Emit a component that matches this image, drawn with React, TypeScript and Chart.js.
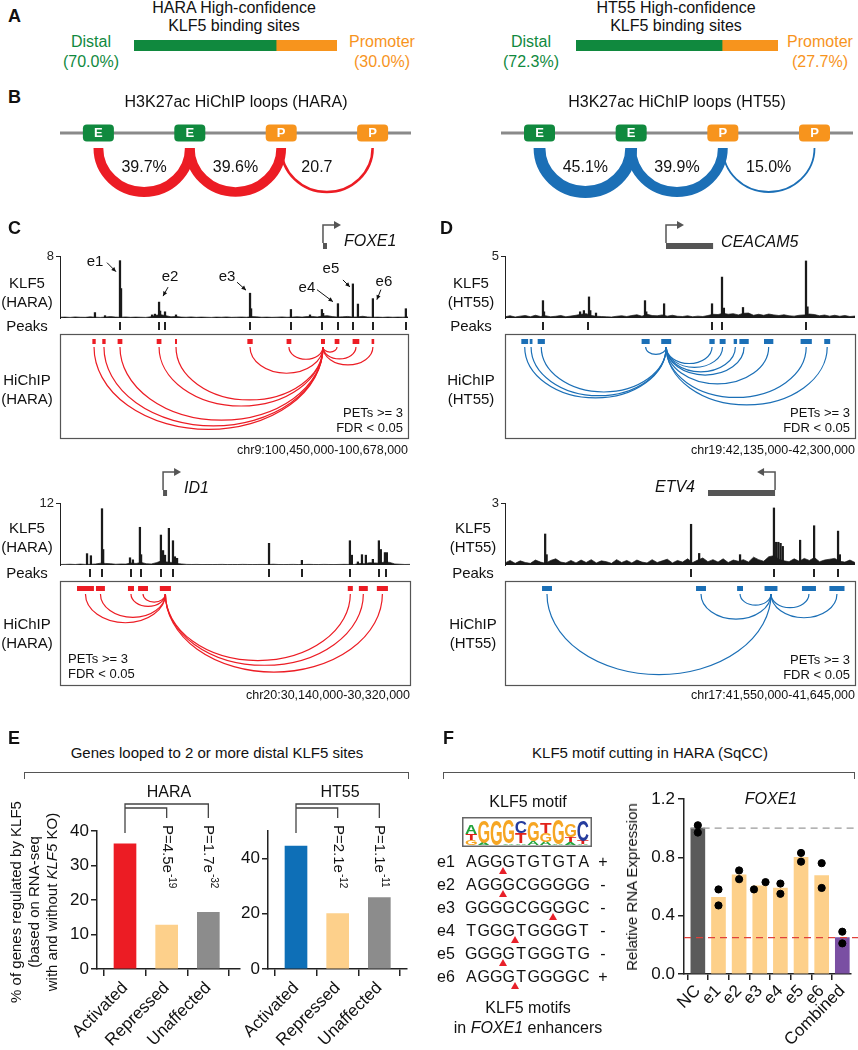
import React, { useEffect, useRef } from "react";
import { Chart, registerables } from "chart.js";

Chart.register(...registerables);

const FONT = "'Liberation Sans', Arial, Helvetica, sans-serif";
Chart.defaults.font.family = FONT;
Chart.defaults.color = "#111";

const GREEN = "#10893E";
const ORANGE = "#F7941D";
const RED = "#EC1C24";
const BLUE = "#1B6FB6";
const INK = "#1a1a1a";

/* ---------------- Panel A ---------------- */
const bindingCells = ["HARA", "HT55"];
const distalPct = [70.0, 72.3];
const promoterPct = [30.0, 27.7];

/* ---------------- Panel B ---------------- */
const loopNodes = ["E", "E", "P", "P"];
const loopPctHARA = [39.7, 39.6, 20.7];
const loopPctHT55 = [45.1, 39.9, 15.0];
const loopTextHARA = ["39.7%", "39.6%", "20.7"];
const loopTextHT55 = ["45.1%", "39.9%", "15.0%"];

/* ---------------- Panel C top: FOXE1 locus (HARA), kb from chr9:100,450,000 ---------------- */
const foxe1Span = 228;
const foxe1Max = 8;
const foxe1Noise = [
  0.10, 0.12, 0.08, 0.14, 0.10, 0.09, 0.15, 0.11, 0.08, 0.13,
  0.18, 0.12, 0.10, 0.14, 0.09, 0.12, 0.10, 0.08, 0.16, 0.35,
  0.42, 0.30, 0.15, 0.20, 0.12, 0.10, 0.14, 0.09, 0.12, 0.10,
  0.08, 0.12, 0.10, 0.14, 0.09, 0.11, 0.13, 0.10, 0.18, 0.15,
  0.10, 0.12, 0.09, 0.11, 0.14, 0.10, 0.12, 0.16, 0.12, 0.18,
  0.20, 0.14, 0.25, 0.30, 0.18, 0.12, 0.15, 0.20, 0.12, 0.14,
  0.22, 0.14, 0.10, 0.12, 0.09, 0.13, 0.10, 0.12, 0.11, 0.14,
];
const foxe1Peaks = [
  [22.9, 0.7], [29.5, 0.3], [39.3, 7.4], [40.0, 3.8], [60.3, 0.4], [62.2, 0.5],
  [64.9, 2.05], [65.6, 0.9], [68.8, 0.8], [76.0, 0.4], [124.5, 3.2], [125.2, 1.2],
  [151.3, 1.1], [163.8, 0.4], [171.6, 1.1], [172.4, 0.6], [182.1, 1.85], [191.9, 4.4],
  [195.2, 1.8], [205.0, 2.5], [226.6, 1.2],
];
const foxe1Calls = [39.3, 64.9, 68.8, 124.5, 151.3, 171.6, 182.1, 191.9, 205.0, 226.6];
const foxe1Anchors = [
  [22.3, 2.2], [28.8, 2.2], [39.3, 3.1], [64.9, 3.1], [76.0, 1.3], [124.5, 3.5],
  [150.0, 3.1], [172.3, 2.6], [181.5, 3.1], [193.9, 4.4], [205.0, 1.7],
];
const foxe1Loops = [
  [22.3, 172.3], [28.8, 172.3], [39.3, 172.3], [64.9, 172.3], [76.0, 172.3],
  [124.5, 172.3], [150.0, 172.3], [172.3, 181.5], [172.3, 193.9], [172.3, 205.0],
];

/* ---------------- Panel C bottom: ID1 locus (HARA), kb from chr20:30,140,000 ---------------- */
const id1Span = 180;
const id1Max = 12;
const id1Noise = [
  0.10, 0.12, 0.15, 0.10, 0.18, 0.12, 0.14, 0.20, 0.35, 0.30,
  0.25, 0.15, 0.20, 0.18, 0.40, 0.30, 0.50, 0.25, 0.20, 0.45,
  0.80, 0.60, 0.50, 0.30, 0.20, 0.12, 0.10, 0.12, 0.08, 0.10,
  0.09, 0.10, 0.12, 0.08, 0.10, 0.09, 0.12, 0.10, 0.08, 0.10,
  0.11, 0.09, 0.15, 0.10, 0.08, 0.10, 0.12, 0.09, 0.10, 0.13,
  0.10, 0.09, 0.12, 0.10, 0.08, 0.11, 0.13, 0.12, 0.10, 0.30,
  0.25, 0.45, 0.40, 0.35, 0.60, 0.50, 0.20, 0.15, 0.10, 0.12,
];
const id1Peaks = [
  [13.9, 2.2], [15.9, 1.8], [21.6, 10.9], [22.2, 3.0], [36.0, 1.4], [37.5, 1.0],
  [41.1, 7.3], [41.7, 2.0], [51.9, 5.8], [53.0, 2.8], [54.0, 1.9], [56.0, 7.1],
  [58.1, 4.7], [59.1, 1.6], [60.2, 1.3], [107.5, 4.2], [124.4, 0.9], [149.1, 4.7],
  [150.1, 1.9], [153.2, 0.6], [155.3, 2.0], [157.3, 1.9], [160.9, 1.1], [164.0, 4.7],
  [165.0, 3.0], [167.1, 2.4], [168.1, 2.4],
];
const id1Calls = [15.4, 21.6, 36.5, 41.6, 51.9, 58.1, 107.5, 124.4, 149.1, 164.0, 167.6];
const id1Anchors = [
  [13.1, 8.7], [20.8, 4.6], [36.5, 3.1], [42.7, 5.1], [54.2, 5.7],
  [149.3, 2.6], [156.0, 4.6], [165.8, 5.7],
];
const id1Loops = [
  [13.1, 54.2], [20.8, 54.2], [36.5, 54.2], [42.7, 54.2],
  [54.2, 149.3], [54.2, 156.0], [54.2, 165.8],
];

/* ---------------- Panel D top: CEACAM5 locus (HT55), kb from chr19:42,135,000 ---------------- */
const ceaSpan = 165;
const ceaMax = 5;
const ceaNoise = [
  0.10, 0.18, 0.08, 0.15, 0.20, 0.10, 0.22, 0.12, 0.18, 0.10,
  0.14, 0.20, 0.10, 0.16, 0.22, 0.30, 0.35, 0.20, 0.14, 0.12,
  0.10, 0.08, 0.14, 0.18, 0.12, 0.20, 0.26, 0.15, 0.30, 0.20,
  0.18, 0.25, 0.15, 0.22, 0.14, 0.12, 0.18, 0.10, 0.15, 0.12,
  0.20, 0.30, 0.28, 0.38, 0.30, 0.35, 0.25, 0.38, 0.40, 0.22,
  0.30, 0.22, 0.32, 0.25, 0.20, 0.26, 0.18, 0.15, 0.22, 0.25,
  0.32, 0.28, 0.18, 0.24, 0.15, 0.22, 0.14, 0.20, 0.12, 0.16,
];
const ceaPeaks = [
  [17.9, 1.4], [18.4, 0.5], [35.4, 0.5], [37.2, 0.6], [39.6, 1.7], [40.2, 0.6],
  [42.9, 0.4], [66.0, 1.4], [66.6, 0.5], [75.0, 1.15], [97.6, 1.15], [102.3, 3.3],
  [103.2, 0.8], [112.2, 0.85], [141.9, 4.6], [142.6, 0.9],
];
const ceaCalls = [17.9, 39.1, 97.6, 102.3, 141.9];
const ceaAnchors = [
  [9.3, 3.2], [12.3, 1.3], [17.1, 3.4], [66.3, 3.8], [76.0, 4.7], [97.6, 2.5],
  [102.6, 2.8], [108.6, 1.6], [112.7, 4.4], [124.3, 4.4], [142.0, 5.3], [151.9, 2.8],
];
const ceaLoops = [
  [9.3, 76.0], [12.3, 76.0], [17.1, 76.0], [66.3, 76.0], [76.0, 97.6], [76.0, 102.6],
  [76.0, 108.6], [76.0, 112.7], [76.0, 124.3], [76.0, 142.0], [76.0, 151.9],
];

/* ---------------- Panel D bottom: ETV4 locus (HT55), kb from chr17:41,550,000 ---------------- */
const etv4Span = 95;
const etv4Max = 3;
const etv4Noise = [
  0.10, 0.22, 0.08, 0.20, 0.12, 0.08, 0.24, 0.14, 0.08, 0.22,
  0.30, 0.14, 0.10, 0.22, 0.10, 0.24, 0.12, 0.26, 0.10, 0.20,
  0.16, 0.08, 0.26, 0.12, 0.22, 0.10, 0.24, 0.14, 0.10, 0.26,
  0.12, 0.20, 0.28, 0.10, 0.22, 0.14, 0.30, 0.12, 0.24, 0.34,
  0.16, 0.26, 0.14, 0.30, 0.12, 0.24, 0.18, 0.26, 0.14, 0.38,
  0.26, 0.18, 0.40, 0.45, 0.28, 0.20, 0.16, 0.30, 0.18, 0.32,
  0.22, 0.36, 0.16, 0.24, 0.28, 0.32, 0.18, 0.14, 0.24, 0.12,
];
const etv4Peaks = [
  [10.9, 1.5], [11.3, 0.5], [50.5, 1.97], [52.7, 0.56], [63.8, 0.5], [73.0, 2.76],
  [73.6, 1.1], [74.2, 1.1], [74.8, 1.05], [75.4, 0.9], [80.1, 1.2], [83.9, 1.9],
  [90.4, 1.64], [90.9, 0.5],
];
const etv4Calls = [50.5, 73.0, 83.9, 90.4];
const etv4Anchors = [[11.4, 2.7], [53.2, 2.7], [63.8, 1.6], [72.2, 3.5], [82.5, 3.8], [90.1, 4.1]];
const etv4Loops = [[11.4, 72.2], [53.2, 72.2], [63.8, 72.2], [72.2, 82.5], [72.2, 90.1]];

/* ---------------- Panel E ---------------- */
const regCategories = ["Activated", "Repressed", "Unaffected"];
const regPctHARA = [36.3, 12.7, 16.4];
const regPctHT55 = [44.5, 20.1, 25.9];
const pMantHARA = ["4.5", "1.7"];
const pExpHARA = ["-19", "-32"];
const pMantHT55 = ["2.1", "1.1"];
const pExpHT55 = ["-12", "-11"];

/* ---------------- Panel F ---------------- */
const motifNames = ["e1", "e2", "e3", "e4", "e5", "e6"];
const motifSeqs = ["AGGGTGTGTA", "AGGGCGGGGG", "GGGGCGGGGC", "TGGGTGGGGT", "GGGGTGGGTG", "AGGGTGGGGC"];
const motifStrand = ["+", "-", "-", "-", "-", "+"];
const motifCut = [3, 3, 7, 4, 3, 4];
const logoA = [0.34, 0.08, 0, 0.06, 0.06, 0.14, 0.12, 0.04, 0.1, 0.03];
const logoC = [0, 0, 0, 0, 0.46, 0, 0, 0, 0, 0.8];
const logoG = [0.2, 0.86, 0.94, 0.88, 0, 0.76, 0.34, 0.92, 0.5, 0];
const logoT = [0.24, 0, 0, 0, 0.4, 0, 0.4, 0, 0.2, 0.12];

const fxLabels = ["NC", "e1", "e2", "e3", "e4", "e5", "e6", "Combined"];
const fxMean = [1.0, 0.525, 0.68, 0.605, 0.59, 0.8, 0.675, 0.25];
const fxRep1 = [1.02, 0.58, 0.71, 0.58, 0.62, 0.83, 0.76, 0.29];
const fxRep2 = [0.97, 0.47, 0.65, 0.63, 0.55, 0.77, 0.59, 0.21];
const fxNCLevel = 1.0;
const fxCombinedLevel = 0.25;

/* ---------------- styles ---------------- */
const fxColors = ["#5A5A5A", "#FDD08A", "#FDD08A", "#FDD08A", "#FDD08A", "#FDD08A", "#FDD08A", "#7A4FA3"];
const fxDotSpread = [0, 0, 0, 0.28, 0, 0, 0, 0];
const loopTextShiftHARA = [0, 0, -10];
const loopTextShiftHT55 = [0, 0, 0];
const logoColors: Record<string, string> = { A: "#21A33A", C: "#253C9E", G: "#F6A623", T: "#E2231A" };

/* ---------------- helpers ---------------- */
function ChartCanvas({ left, top, width, height, make }: any) {
  const ref = useRef<HTMLCanvasElement>(null);
  useEffect(() => {
    const chart = new Chart(ref.current as HTMLCanvasElement, make());
    return () => chart.destroy();
  }, []);
  return (
    <canvas
      ref={ref}
      width={width}
      height={height}
      style={{ position: "absolute", left, top, width, height, display: "block" }}
    />
  );
}

function T({ x, y, s = 15, a = "c", c = "#111", b = false, i = false, lh, children }: any) {
  const tx = a === "l" ? "0" : a === "r" ? "-100%" : "-50%";
  return (
    <div
      style={{
        position: "absolute",
        left: x,
        top: y,
        transform: `translate(${tx},-50%)`,
        fontSize: s,
        color: c,
        fontWeight: b ? "bold" : "normal",
        fontStyle: i ? "italic" : "normal",
        whiteSpace: "nowrap",
        lineHeight: lh ? `${lh}px` : 1.15,
        textAlign: a === "l" ? "left" : a === "r" ? "right" : "center",
      }}
    >
      {children}
    </div>
  );
}

function RotT({ x, y, s = 15, lh = 18, children }: any) {
  return (
    <div
      style={{
        position: "absolute",
        left: x,
        top: y,
        transform: "translate(-50%,-50%) rotate(-90deg)",
        fontSize: s,
        lineHeight: `${lh}px`,
        whiteSpace: "nowrap",
        textAlign: "center",
        color: "#111",
      }}
    >
      {children}
    </div>
  );
}

const baseOpts = {
  responsive: false,
  animation: false,
  events: [],
  plugins: { legend: { display: false }, tooltip: { enabled: false } },
};

/* ---------------- Panel A config ---------------- */
function splitConfig(k: number) {
  return {
    type: "bar",
    data: {
      labels: [bindingCells[k]],
      datasets: [
        { label: "Distal", data: [distalPct[k]], backgroundColor: GREEN, barPercentage: 1, categoryPercentage: 1 },
        { label: "Promoter", data: [promoterPct[k]], backgroundColor: ORANGE, barPercentage: 1, categoryPercentage: 1 },
      ],
    },
    options: {
      ...baseOpts,
      indexAxis: "y",
      layout: { padding: 0 },
      scales: {
        x: { stacked: true, min: 0, max: 100, display: false },
        y: { stacked: true, display: false },
      },
    },
  };
}

/* ---------------- Panel B config ---------------- */
function loopConfig(pcts: number[], texts: string[], shifts: number[], color: string) {
  return {
    type: "scatter",
    data: { datasets: [{ data: loopNodes.map((n, i) => ({ x: i + 1, y: 0 })), pointRadius: 0 }] },
    options: {
      ...baseOpts,
      layout: { padding: 0 },
      scales: {
        x: { type: "linear", min: 0.58, max: 4.42, display: false },
        y: { min: -1, max: 1, display: false },
      },
    },
    plugins: [
      {
        id: "loops",
        afterDraw(chart: any) {
          const { ctx, chartArea, scales } = chart;
          const xs = scales.x;
          const ly = chartArea.top + 23;
          ctx.save();
          ctx.strokeStyle = "#8a8a8a";
          ctx.lineWidth = 3;
          ctx.beginPath();
          ctx.moveTo(chartArea.left, ly);
          ctx.lineTo(chartArea.right, ly);
          ctx.stroke();
          pcts.forEach((p, i) => {
            const x1 = xs.getPixelForValue(i + 1);
            const x2 = xs.getPixelForValue(i + 2);
            const th = Math.max(1.8, (p - 14) * 0.38);
            ctx.strokeStyle = color;
            ctx.lineWidth = th;
            ctx.beginPath();
            ctx.ellipse((x1 + x2) / 2, ly + 15, (x2 - x1) / 2, 44, 0, 0, Math.PI);
            ctx.stroke();
            ctx.fillStyle = "#111";
            ctx.font = `16px ${FONT}`;
            ctx.textAlign = "center";
            ctx.textBaseline = "middle";
            ctx.fillText(texts[i], (x1 + x2) / 2 + shifts[i], ly + 35);
          });
          loopNodes.forEach((n, i) => {
            const x = xs.getPixelForValue(i + 1);
            ctx.fillStyle = n === "E" ? GREEN : ORANGE;
            ctx.beginPath();
            (ctx as any).roundRect(x - 15.5, ly - 8.5, 31, 17, 4);
            ctx.fill();
            ctx.fillStyle = "#fff";
            ctx.font = `bold 13px ${FONT}`;
            ctx.textAlign = "center";
            ctx.textBaseline = "middle";
            ctx.fillText(n, x, ly + 0.5);
          });
          ctx.restore();
        },
      },
    ],
  };
}

/* ---------------- Panels C / D config ---------------- */
type Gene = { name: string; tss: number; end: number; strand: number; label: string };
type ELab = { name: string; kb: number; tip: number[]; tail: number[]; text: number[] };
type Track = {
  span: number; ymax: number; noise: number[]; peaks: number[][]; calls: number[];
  anchors: number[][]; loops: number[][]; color: string; gene: Gene; notes: string;
  elabels?: ELab[]; axisW: number; pad: { top: number; right: number; bottom: number };
};

function trackConfig(t: Track) {
  return {
    type: "bar",
    data: {
      datasets: [
        {
          type: "line",
          data: t.noise.map((v, i) => ({ x: (i * t.span) / (t.noise.length - 1), y: v })),
          borderColor: INK,
          backgroundColor: INK,
          borderWidth: 0.7,
          pointRadius: 0,
          fill: "origin",
          tension: 0,
        },
        {
          type: "bar",
          data: t.peaks.map(([k, v]) => ({ x: k, y: v })),
          backgroundColor: INK,
          barThickness: 1.6,
        },
      ],
    },
    options: {
      ...baseOpts,
      layout: { padding: { left: 0, top: t.pad.top, right: t.pad.right, bottom: t.pad.bottom } },
      scales: {
        x: { type: "linear", min: 0, max: t.span, display: false, offset: false },
        y: {
          min: 0,
          max: t.ymax,
          afterFit: (s: any) => { s.width = t.axisW; },
          afterBuildTicks: (s: any) => { s.ticks = [{ value: t.ymax }]; },
          ticks: { font: { size: 13 }, color: "#222", padding: 2 },
          grid: { drawOnChartArea: false, tickLength: 4, color: "#222" },
          border: { color: "#222" },
        },
      },
    },
    plugins: [
      {
        id: "track",
        afterDraw(chart: any) {
          const { ctx, chartArea, scales } = chart;
          const { left, right, top, bottom } = chartArea;
          const x = scales.x, y = scales.y;
          ctx.save();
          // peak calls
          ctx.fillStyle = "#222";
          t.calls.forEach((kb) => {
            const px = x.getPixelForValue(kb);
            ctx.fillRect(Math.round(px) - 1, bottom + 4, 2, 8);
          });
          // HiChIP box
          const bTop = bottom + 16, bH = 104;
          ctx.strokeStyle = "#555";
          ctx.lineWidth = 1.2;
          ctx.strokeRect(left + 0.5, bTop + 0.5, right - left, bH);
          // anchors
          ctx.fillStyle = t.color;
          t.anchors.forEach(([c, w]) => {
            const a = x.getPixelForValue(c - w / 2), b = x.getPixelForValue(c + w / 2);
            ctx.fillRect(a, bTop + 5, Math.max(2, b - a), 5);
          });
          // loops
          ctx.strokeStyle = t.color;
          ctx.lineWidth = 1.2;
          t.loops.forEach(([p, q]) => {
            const a = x.getPixelForValue(p), b = x.getPixelForValue(q);
            const rx = Math.abs(b - a) / 2;
            ctx.beginPath();
            ctx.ellipse((a + b) / 2, bTop + 13, rx, rx * 0.72, 0, 0, Math.PI);
            ctx.stroke();
          });
          // notes
          ctx.fillStyle = "#111";
          ctx.font = `13px ${FONT}`;
          ctx.textBaseline = "middle";
          if (t.notes === "right") {
            ctx.textAlign = "right";
            ctx.fillText("PETs >= 3", right - 5, bTop + bH - 25);
            ctx.fillText("FDR < 0.05", right - 5, bTop + bH - 10);
          } else {
            ctx.textAlign = "left";
            ctx.fillText("PETs >= 3", left + 8, bTop + bH - 26);
            ctx.fillText("FDR < 0.05", left + 8, bTop + bH - 11);
          }
          // gene
          const g = t.gene;
          const ts = x.getPixelForValue(g.tss), te = x.getPixelForValue(g.end);
          const by = top - 13, ay = top - 31;
          ctx.fillStyle = "#555";
          ctx.fillRect(Math.min(ts, te), by, Math.max(4, Math.abs(te - ts)), 6);
          ctx.strokeStyle = "#555";
          ctx.lineWidth = 1.5;
          const ax = ts + g.strand * 12;
          ctx.beginPath();
          ctx.moveTo(ts, by);
          ctx.lineTo(ts, ay);
          ctx.lineTo(ax, ay);
          ctx.stroke();
          ctx.beginPath();
          ctx.moveTo(ax + g.strand * 6, ay);
          ctx.lineTo(ax - g.strand * 1, ay - 4);
          ctx.lineTo(ax - g.strand * 1, ay + 4);
          ctx.closePath();
          ctx.fill();
          ctx.fillStyle = "#111";
          ctx.font = `italic 16px ${FONT}`;
          if (g.label === "arrow") {
            ctx.textAlign = "left";
            ctx.fillText(g.name, ts + 21, top - 14);
          } else if (g.label === "end") {
            ctx.textAlign = "left";
            ctx.fillText(g.name, te + 8, top - 13);
          } else {
            ctx.textAlign = "right";
            ctx.fillText(g.name, te - 13, top - 15);
          }
          // enhancer labels
          (t.elabels || []).forEach((e) => {
            const pk = t.peaks.find((p) => Math.abs(p[0] - e.kb) < 0.01) as number[];
            const px = x.getPixelForValue(pk[0]), py = y.getPixelForValue(pk[1]);
            const tipX = px + e.tip[0], tipY = py + e.tip[1];
            const tailX = tipX + e.tail[0], tailY = tipY + e.tail[1];
            ctx.strokeStyle = "#111";
            ctx.fillStyle = "#111";
            ctx.lineWidth = 1;
            ctx.beginPath();
            ctx.moveTo(tailX, tailY);
            ctx.lineTo(tipX, tipY);
            ctx.stroke();
            const ang = Math.atan2(tipY - tailY, tipX - tailX);
            ctx.beginPath();
            ctx.moveTo(tipX, tipY);
            ctx.lineTo(tipX - 5 * Math.cos(ang - 0.45), tipY - 5 * Math.sin(ang - 0.45));
            ctx.lineTo(tipX - 5 * Math.cos(ang + 0.45), tipY - 5 * Math.sin(ang + 0.45));
            ctx.closePath();
            ctx.fill();
            ctx.font = `15px ${FONT}`;
            ctx.textAlign = "center";
            ctx.fillText(e.name, tailX + e.text[0], tailY + e.text[1]);
          });
          ctx.restore();
        },
      },
    ],
  };
}

const foxe1Track: Track = {
  span: foxe1Span, ymax: foxe1Max, noise: foxe1Noise, peaks: foxe1Peaks, calls: foxe1Calls,
  anchors: foxe1Anchors, loops: foxe1Loops, color: RED, notes: "right",
  gene: { name: "FOXE1", tss: 172.3, end: 174.9, strand: 1, label: "arrow" },
  elabels: [
    { name: "e1", kb: 39.3, tip: [-4, 11], tail: [-9, -9], text: [-12, -1] },
    { name: "e2", kb: 64.9, tip: [4, -6], tail: [5, -9], text: [2, -10] },
    { name: "e3", kb: 124.5, tip: [-4, -3], tail: [-9, -8], text: [-10, -5] },
    { name: "e4", kb: 182.1, tip: [-5, -2], tail: [-16, -12], text: [-10, -2] },
    { name: "e5", kb: 191.9, tip: [-3, 3], tail: [-7, -7], text: [-12, -11] },
    { name: "e6", kb: 205.0, tip: [4, 1], tail: [4, -10], text: [3, -8] },
  ],
  axisW: 60, pad: { top: 41, right: 12, bottom: 147 },
};
const id1Track: Track = {
  span: id1Span, ymax: id1Max, noise: id1Noise, peaks: id1Peaks, calls: id1Calls,
  anchors: id1Anchors, loops: id1Loops, color: RED, notes: "left",
  gene: { name: "ID1", tss: 53.0, end: 55.0, strand: 1, label: "arrow" },
  axisW: 60, pad: { top: 43, right: 10, bottom: 135 },
};
const ceaTrack: Track = {
  span: ceaSpan, ymax: ceaMax, noise: ceaNoise, peaks: ceaPeaks, calls: ceaCalls,
  anchors: ceaAnchors, loops: ceaLoops, color: BLUE, notes: "right",
  gene: { name: "CEACAM5", tss: 75.9, end: 98.1, strand: 1, label: "end" },
  axisW: 65, pad: { top: 41, right: 3, bottom: 147 },
};
const etv4Track: Track = {
  span: etv4Span, ymax: etv4Max, noise: etv4Noise, peaks: etv4Peaks, calls: etv4Calls,
  anchors: etv4Anchors, loops: etv4Loops, color: BLUE, notes: "right",
  gene: { name: "ETV4", tss: 73.3, end: 55.1, strand: -1, label: "start" },
  axisW: 65, pad: { top: 43, right: 3, bottom: 135 },
};

/* ---------------- Panel E config ---------------- */
function regConfig(vals: number[], colors: string[], ymax: number, ticks: number[], mant: string[], exp: string[], axisW: number, padRight: number, xmax: number) {
  return {
    type: "bar",
    data: { datasets: [{ data: vals.map((v, i) => ({ x: i, y: v })), backgroundColor: colors, barThickness: 22 }] },
    options: {
      ...baseOpts,
      layout: { padding: { top: 36, right: padRight, left: 0, bottom: 0 } },
      scales: {
        x: {
          type: "linear", min: -0.672, max: xmax, offset: false,
          afterBuildTicks: (s: any) => { s.ticks = [0, 1, 2].map((v) => ({ value: v })); },
          afterFit: (s: any) => { s.height = 81; },
          ticks: { callback: (v: any) => regCategories[v], minRotation: 45, maxRotation: 45, autoSkip: false, font: { size: 17 }, color: "#111", padding: 2 },
          grid: { drawOnChartArea: false, tickLength: 7, color: "#222", lineWidth: 1.5 },
          border: { color: "#222", width: 1.5 },
        },
        y: {
          min: 0, max: ymax,
          afterBuildTicks: (s: any) => { s.ticks = ticks.map((v) => ({ value: v })); },
          afterFit: (s: any) => { s.width = axisW; },
          ticks: { font: { size: 17 }, color: "#111", padding: 2 },
          grid: { drawOnChartArea: false, tickLength: 6, color: "#222", lineWidth: 1.5 },
          border: { color: "#222", width: 1.5 },
        },
      },
    },
    plugins: [
      {
        id: "sig",
        afterDraw(chart: any) {
          const { ctx, chartArea, scales } = chart;
          const top = chartArea.top;
          const x0 = scales.x.getPixelForValue(0), x1 = scales.x.getPixelForValue(1), x2 = scales.x.getPixelForValue(2);
          ctx.save();
          ctx.strokeStyle = "#444";
          ctx.lineWidth = 1.3;
          const y1 = top - 27, y2 = top - 23, yd = top - 13;
          ctx.beginPath();
          ctx.moveTo(x0, top + 2);
          ctx.lineTo(x0, y1);
          ctx.lineTo(x2, y1);
          ctx.lineTo(x2, yd);
          ctx.moveTo(x0, y2);
          ctx.lineTo(x1, y2);
          ctx.lineTo(x1, yd);
          ctx.stroke();
          [x1, x2].forEach((px, k) => {
            ctx.save();
            ctx.translate(px, top - 6);
            ctx.rotate(Math.PI / 2);
            ctx.fillStyle = "#111";
            ctx.textBaseline = "middle";
            ctx.textAlign = "left";
            ctx.font = `15px ${FONT}`;
            const s = `P=${mant[k]}e`;
            ctx.fillText(s, 0, 0);
            const w = ctx.measureText(s).width;
            ctx.font = `10px ${FONT}`;
            ctx.fillText(exp[k], w + 1, -5);
            ctx.restore();
          });
          ctx.restore();
        },
      },
    ],
  };
}

/* ---------------- Panel F configs ---------------- */
function logoConfig() {
  const letters = ["A", "C", "G", "T"];
  const sets = [logoA, logoC, logoG, logoT];
  return {
    type: "bar",
    data: {
      labels: logoA.map((_, i) => String(i + 1)),
      datasets: sets.map((d, k) => ({ label: letters[k], data: d, backgroundColor: "rgba(0,0,0,0)", stack: "s" })),
    },
    options: {
      ...baseOpts,
      layout: { padding: { left: 3, right: 3, top: 2, bottom: 2 } },
      scales: { x: { display: false, stacked: true }, y: { display: false, stacked: true, min: 0, max: 1 } },
    },
    plugins: [
      {
        id: "logo",
        afterDraw(chart: any) {
          const { ctx, chartArea, scales, width, height } = chart;
          const colW = (chartArea.right - chartArea.left) / logoA.length;
          ctx.save();
          ctx.font = `bold 40px ${FONT}`;
          ctx.textBaseline = "alphabetic";
          ctx.textAlign = "left";
          logoA.forEach((_, i) => {
            const xc = scales.x.getPixelForValue(i);
            const items = letters.map((l, k) => ({ l, h: sets[k][i] })).filter((o) => o.h > 0).sort((a, b) => a.h - b.h);
            let cum = 0;
            items.forEach((o) => {
              const yb = scales.y.getPixelForValue(cum);
              const yt = scales.y.getPixelForValue(cum + o.h);
              cum += o.h;
              const m = ctx.measureText(o.l);
              const asc = m.actualBoundingBoxAscent, desc = m.actualBoundingBoxDescent;
              const gl = m.actualBoundingBoxLeft, gr = m.actualBoundingBoxRight;
              const gw = gl + gr;
              const w = colW * 0.92;
              ctx.save();
              ctx.translate(xc - w / 2, yb);
              ctx.scale(w / gw, (yb - yt) / (asc + desc));
              ctx.fillStyle = logoColors[o.l];
              ctx.fillText(o.l, gl, -desc);
              ctx.restore();
            });
          });
          ctx.strokeStyle = "#666";
          ctx.lineWidth = 1.5;
          ctx.strokeRect(0.75, 0.75, width - 1.5, height - 1.5);
          ctx.restore();
        },
      },
    ],
  };
}

function foxe1BarConfig() {
  return {
    type: "bar",
    data: {
      datasets: [
        {
          type: "scatter",
          data: [
            ...fxRep1.map((v, i) => ({ x: i - fxDotSpread[i], y: v })),
            ...fxRep2.map((v, i) => ({ x: i + fxDotSpread[i], y: v })),
          ],
          backgroundColor: "#000",
          borderColor: "#000",
          pointRadius: 3.6,
          order: 1,
        },
        {
          type: "bar",
          data: fxMean.map((v, i) => ({ x: i, y: v })),
          backgroundColor: fxColors,
          barThickness: 14,
          order: 2,
        },
      ],
    },
    options: {
      ...baseOpts,
      layout: { padding: { top: 19, right: 5, left: 0, bottom: 0 } },
      scales: {
        x: {
          type: "linear", min: -0.671, max: 7.43, offset: false,
          afterBuildTicks: (s: any) => { s.ticks = fxLabels.map((_, i) => ({ value: i })); },
          afterFit: (s: any) => { s.height = 76; },
          ticks: { callback: (v: any) => fxLabels[v], minRotation: 45, maxRotation: 45, autoSkip: false, font: { size: 17 }, color: "#111", padding: 1 },
          grid: { drawOnChartArea: false, tickLength: 6, color: "#222", lineWidth: 1.5 },
          border: { color: "#222", width: 1.5 },
        },
        y: {
          min: 0, max: 1.2,
          afterBuildTicks: (s: any) => { s.ticks = [0, 0.4, 0.8, 1.2].map((v) => ({ value: v })); },
          afterFit: (s: any) => { s.width = 84; },
          ticks: { callback: (v: any) => Number(v).toFixed(1), font: { size: 17 }, color: "#111", padding: 3 },
          grid: { drawOnChartArea: false, tickLength: 6, color: "#222", lineWidth: 1.5 },
          border: { color: "#222", width: 1.5 },
        },
      },
    },
    plugins: [
      {
        id: "refLines",
        afterDatasetDraw(chart: any, args: any) {
          if (args.meta.type !== "bar") return;
          const { ctx, chartArea, scales, width } = chart;
          ctx.save();
          ctx.setLineDash([7, 5]);
          ctx.lineWidth = 1.3;
          ctx.strokeStyle = "#9a9a9a";
          const yg = scales.y.getPixelForValue(fxNCLevel);
          ctx.beginPath();
          ctx.moveTo(scales.x.getPixelForValue(-0.35), yg);
          ctx.lineTo(width, yg);
          ctx.stroke();
          ctx.strokeStyle = "#E0403A";
          const yr = scales.y.getPixelForValue(fxCombinedLevel);
          ctx.beginPath();
          ctx.moveTo(chartArea.left, yr);
          ctx.lineTo(width, yr);
          ctx.stroke();
          ctx.restore();
        },
      },
    ],
  };
}

/* ---------------- App ---------------- */
export default function App() {
  const bracket = (x: number, w: number) => (
    <div
      style={{
        position: "absolute", left: x, top: 772, width: w, height: 7,
        borderTop: "1.3px solid #555", borderLeft: "1.3px solid #555", borderRight: "1.3px solid #555",
        boxSizing: "border-box",
      }}
    />
  );
  return (
    <div
      style={{
        position: "absolute", left: 0, top: 0, width: 858, height: 1050, overflow: "hidden",
        background: "#fff", fontFamily: FONT, color: "#111",
      }}
    >
      {/* Panel A */}
      <ChartCanvas left={134} top={40} width={203} height={11} make={() => splitConfig(0)} />
      <ChartCanvas left={576} top={40} width={202} height={11} make={() => splitConfig(1)} />
      {/* Panel B */}
      <ChartCanvas left={60} top={110} width={351} height={100} make={() => loopConfig(loopPctHARA, loopTextHARA, loopTextShiftHARA, RED)} />
      <ChartCanvas left={501} top={110} width={352} height={100} make={() => loopConfig(loopPctHT55, loopTextHT55, loopTextShiftHT55, BLUE)} />
      {/* Panels C / D */}
      <ChartCanvas left={0} top={215} width={420} height={250} make={() => trackConfig(foxe1Track)} />
      <ChartCanvas left={440} top={215} width={418} height={250} make={() => trackConfig(ceaTrack)} />
      <ChartCanvas left={0} top={460} width={420} height={240} make={() => trackConfig(id1Track)} />
      <ChartCanvas left={440} top={460} width={418} height={240} make={() => trackConfig(etv4Track)} />
      {/* Panel E */}
      <ChartCanvas left={40} top={795} width={210} height={255}
        make={() => regConfig(regPctHARA, [RED, "#FDD08B", "#8C8C8C"], 40, [0, 10, 20, 30, 40], pMantHARA, pExpHARA, 57, 10, 2.76)} />
      <ChartCanvas left={225} top={795} width={190} height={255}
        make={() => regConfig(regPctHT55, ["#0E6FB7", "#FDD08B", "#8C8C8C"], 50, [0, 20, 40], pMantHT55, pExpHT55, 43, 8, 2.664)} />
      {/* Panel F */}
      <ChartCanvas left={462} top={817} width={130} height={30} make={logoConfig} />
      <ChartCanvas left={600} top={780} width={258} height={270} make={foxe1BarConfig} />

      {/* ---- texts ---- */}
      <T x={8} y={16} a="l" s={18} b>A</T>
      <T x={234} y={8} s={16}>HARA High-confidence</T>
      <T x={234} y={26} s={16}>KLF5 binding sites</T>
      <T x={91} y={42} s={16} c={GREEN}>Distal</T>
      <T x={91} y={62} s={16} c={GREEN}>(70.0%)</T>
      <T x={382} y={42} s={16} c={ORANGE}>Promoter</T>
      <T x={382} y={62} s={16} c={ORANGE}>(30.0%)</T>
      <T x={676} y={8} s={16}>HT55 High-confidence</T>
      <T x={676} y={26} s={16}>KLF5 binding sites</T>
      <T x={531} y={42} s={16} c={GREEN}>Distal</T>
      <T x={531} y={62} s={16} c={GREEN}>(72.3%)</T>
      <T x={820} y={42} s={16} c={ORANGE}>Promoter</T>
      <T x={820} y={62} s={16} c={ORANGE}>(27.7%)</T>

      <T x={8} y={97} a="l" s={18} b>B</T>
      <T x={236} y={102} s={16}>H3K27ac HiChIP loops (HARA)</T>
      <T x={677} y={102} s={16}>H3K27ac HiChIP loops (HT55)</T>

      <T x={8} y={228} a="l" s={18} b>C</T>
      <T x={440} y={228} a="l" s={18} b>D</T>
      <T x={27} y={292} lh={19}>KLF5<br />(HARA)</T>
      <T x={27} y={326}>Peaks</T>
      <T x={27} y={389} lh={19}>HiChIP<br />(HARA)</T>
      <T x={408} y={450} a="r" s={12.5}>chr9:100,450,000-100,678,000</T>
      <T x={471} y={292} lh={19}>KLF5<br />(HT55)</T>
      <T x={471} y={326}>Peaks</T>
      <T x={471} y={389} lh={19}>HiChIP<br />(HT55)</T>
      <T x={855} y={450} a="r" s={12.5}>chr19:42,135,000-42,300,000</T>
      <T x={27} y={537} lh={19}>KLF5<br />(HARA)</T>
      <T x={27} y={573}>Peaks</T>
      <T x={27} y={633} lh={19}>HiChIP<br />(HARA)</T>
      <T x={410} y={695} a="r" s={12.5}>chr20:30,140,000-30,320,000</T>
      <T x={473} y={537} lh={19}>KLF5<br />(HT55)</T>
      <T x={473} y={573}>Peaks</T>
      <T x={473} y={633} lh={19}>HiChIP<br />(HT55)</T>
      <T x={855} y={695} a="r" s={12.5}>chr17:41,550,000-41,645,000</T>

      <T x={8} y={738} a="l" s={18} b>E</T>
      <T x={217} y={753} s={15}>Genes looped to 2 or more distal KLF5 sites</T>
      {bracket(24, 385)}
      <T x={169} y={792} s={16}>HARA</T>
      <T x={340} y={792} s={16}>HT55</T>
      <RotT x={34} y={902} s={15} lh={18}>
        % of genes regulated by KLF5<br />(based on RNA-seq<br />with and without <i>KLF5</i> KO)
      </RotT>

      <T x={443} y={738} a="l" s={18} b>F</T>
      <T x={650} y={753} s={15}>KLF5 motif cutting in HARA (SqCC)</T>
      {bracket(443, 412)}
      <T x={528} y={802} s={16}>KLF5 motif</T>
      {motifSeqs.map((seq, r) => (
        <React.Fragment key={r}>
          <T x={437} y={862 + r * 23} a="l" s={16}>{motifNames[r]}</T>
          {seq.split("").map((ch, k) => (
            <T key={k} x={465 + 12.5 * k + 6.25} y={862 + r * 23} s={16}>{ch}</T>
          ))}
          <T x={603} y={862 + r * 23} s={16}>{motifStrand[r]}</T>
          <div
            style={{
              position: "absolute", left: 465 + 12.5 * motifCut[r] - 4, top: 862 + r * 23 + 5,
              width: 0, height: 0, borderLeft: "4px solid transparent", borderRight: "4px solid transparent",
              borderBottom: "7px solid #E8202A",
            }}
          />
        </React.Fragment>
      ))}
      <T x={528} y={1008} s={16}>KLF5 motifs</T>
      <T x={528} y={1028} s={16}>in <i>FOXE1</i> enhancers</T>
      <T x={771} y={799} s={16} i>FOXE1</T>
      <RotT x={632} y={887} s={15}>Relative RNA Expression</RotT>
    </div>
  );
}
